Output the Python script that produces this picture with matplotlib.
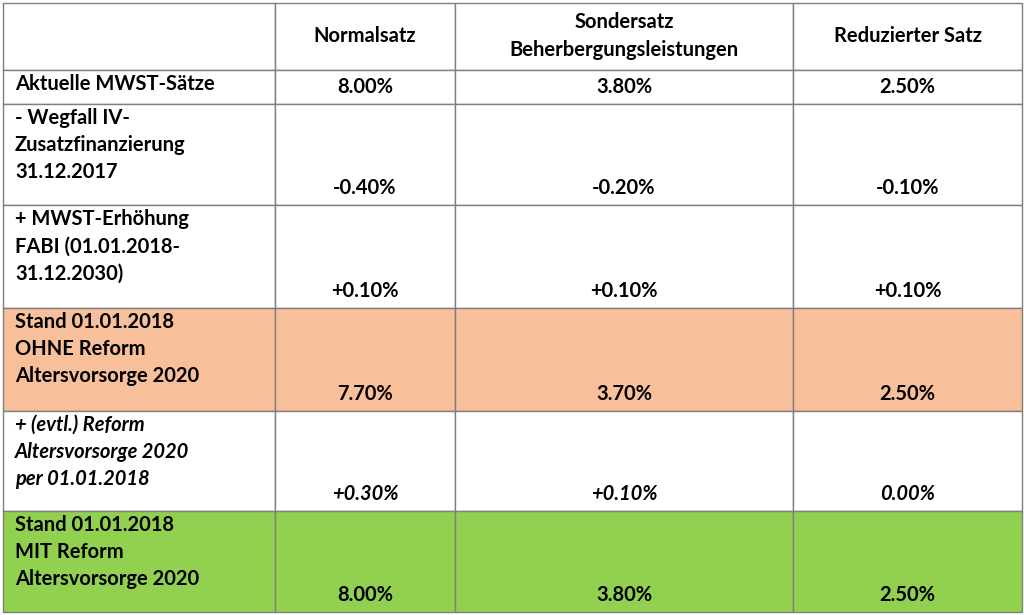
import matplotlib.pyplot as plt
from matplotlib.patches import Rectangle

headers = ["", "Normalsatz", "Sondersatz\nBeherbergungsleistungen", "Reduzierter Satz"]
row_labels = ["Aktuelle MWST-Sätze",
              "- Wegfall IV-\nZusatzfinanzierung\n31.12.2017",
              "+ MWST-Erhöhung\nFABI (01.01.2018-\n31.12.2030)",
              "Stand 01.01.2018\nOHNE Reform\nAltersvorsorge 2020",
              "+ (evtl.) Reform\nAltersvorsorge 2020\nper 01.01.2018",
              "Stand 01.01.2018\nMIT Reform\nAltersvorsorge 2020"]
normalsatz = ["8.00%", "-0.40%", "+0.10%", "7.70%", "+0.30%", "8.00%"]
sondersatz = ["3.80%", "-0.20%", "+0.10%", "3.70%", "+0.10%", "3.80%"]
reduziert = ["2.50%", "-0.10%", "+0.10%", "2.50%", "0.00%", "2.50%"]
row_colors = ["white", "white", "white", "#F8C09A", "white", "#92D050"]
row_italic = [False, False, False, False, True, False]

xs = [3, 275, 455, 793, 1022]
ys = [3, 70, 104, 205, 308, 411, 511, 612]

fig = plt.figure(figsize=(10.24, 6.15), dpi=100)
ax = fig.add_axes([0, 0, 1, 1])
ax.set_xlim(0, 1024)
ax.set_ylim(615, 0)
ax.axis("off")
font = "Lato"
fs = 14.5

# header
for j, h in enumerate(headers):
    ax.add_patch(Rectangle((xs[j], ys[0]), xs[j+1]-xs[j], ys[1]-ys[0],
                           facecolor="white", edgecolor="#7f7f7f", lw=1))
    if h:
        ax.text((xs[j]+xs[j+1])/2, (ys[0]+ys[1])/2, h, ha="center", va="center",
                fontsize=fs, fontweight="bold", family=font, linespacing=1.5)

cols = [normalsatz, sondersatz, reduziert]
for i, lab in enumerate(row_labels):
    y0, y1 = ys[i+1], ys[i+2]
    style = "italic" if row_italic[i] else "normal"
    for j in range(4):
        ax.add_patch(Rectangle((xs[j], y0), xs[j+1]-xs[j], y1-y0,
                               facecolor=row_colors[i], edgecolor="#7f7f7f", lw=1))
    ax.text(15, y0 + 4, lab, ha="left", va="top", fontsize=fs, fontweight="bold",
            style=style, family=font, linespacing=1.45)
    for j, c in enumerate(cols):
        ax.text((xs[j+1]+xs[j+2])/2, y1 - 17, c[i], ha="center", va="center",
                fontsize=fs, fontweight="bold", style=style, family=font)

fig.savefig("out.png", dpi=100)
